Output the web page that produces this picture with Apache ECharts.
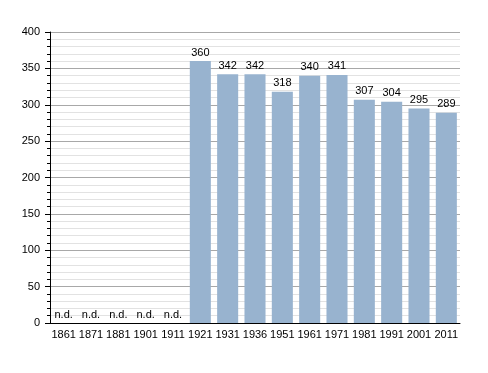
<!DOCTYPE html>
<html><head><meta charset="utf-8">
<script src="https://cdn.jsdelivr.net/npm/echarts@6/dist/echarts.min.js"></script>
<style>html,body{margin:0;padding:0;background:#fff}#c{width:488px;height:373px}</style>
</head><body><div id="c"></div>
<script>
const categories = ['1861','1871','1881','1901','1911','1921','1931','1936','1951','1961','1971','1981','1991','2001','2011'];
const values = [null,null,null,null,null,360,342,342,318,340,341,307,304,295,289];
const yTicks = [0,50,100,150,200,250,300,350,400];

const chart = echarts.init(document.getElementById('c'));
chart.setOption({
  animation:false,
  grid:{left:50,right:28,top:32,bottom:50},
  xAxis:{type:'category',data:categories,
    axisLine:{lineStyle:{color:'#000',width:1}},
    axisTick:{show:false},
    axisLabel:{color:'#000',fontFamily:'Liberation Sans, Arial',fontSize:11,margin:6,interval:0}},
  yAxis:{type:'value',min:yTicks[0],max:yTicks[yTicks.length-1],interval:50,
    axisLine:{show:true,lineStyle:{color:'#000'}},
    axisTick:{show:true,length:5,lineStyle:{color:'#000'}},
    minorTick:{show:true,splitNumber:5,length:3,lineStyle:{color:'#000'}},
    splitLine:{lineStyle:{color:'#a8a8a8'}},
    minorSplitLine:{show:true,lineStyle:{color:'#e2e2e2'}},
    axisLabel:{color:'#000',fontFamily:'Liberation Sans, Arial',fontSize:11,margin:10}},
  series:[{type:'bar',data:values.map(v=>v===null?{value:0,nd:true}:v),
    barCategoryGap:'23%',
    itemStyle:{color:'#98b3cf'},
    label:{show:true,position:'top',distance:3,color:'#000',fontFamily:'Liberation Sans, Arial',fontSize:11,
      formatter:p=>values[p.dataIndex]===null?'n.d.':String(p.value)}}]
});
</script></body></html>
